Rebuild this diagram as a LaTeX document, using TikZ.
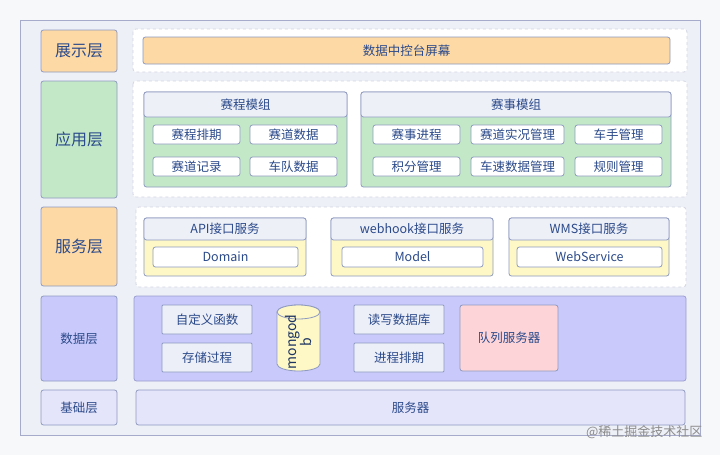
\documentclass[tikz,border=0pt]{standalone}
\usepackage{fontspec}
\setmainfont{Noto Sans CJK SC}
\definecolor{bgc}{HTML}{F7F8FA}
\definecolor{framefill}{HTML}{EEF0F7}
\definecolor{framedraw}{HTML}{A6AACB}
\definecolor{dashdraw}{HTML}{D2D5E2}
\definecolor{orangef}{HTML}{FDD9A5}
\definecolor{greenf}{HTML}{C3E8C8}
\definecolor{headf}{HTML}{EEF0F8}
\definecolor{edge}{HTML}{8E9AC0}
\definecolor{yellowf}{HTML}{FDF8C6}
\definecolor{bluef}{HTML}{C9C9FB}
\definecolor{bluedraw}{HTML}{9A9DD0}
\definecolor{itemf}{HTML}{ECEEF8}
\definecolor{pinkf}{HTML}{FDD5D8}
\definecolor{basef}{HTML}{E4E4FA}
\definecolor{txt}{HTML}{2B4A8A}
\begin{document}
\begin{tikzpicture}[x=1pt,y=-1pt,
  box/.style={draw=edge,line width=0.8pt,rounded corners=2.5pt,inner sep=0pt,text=txt},
  dashbox/.style={draw=dashdraw,dashed,fill=white,line width=0.8pt,rounded corners=3pt},
  lbl/.style={text=txt,font=\fontsize{16}{17}\selectfont},
  small/.style={text=txt,font=\fontsize{12.5}{14}\selectfont},
  item/.style={box,fill=white},
]
\useasboundingbox (0,0) rectangle (720,455);
\fill[bgc] (0,0) rectangle (720,455);
% outer frame
\draw[draw=framedraw,fill=framefill,line width=1pt] (20,20) rectangle (700,435);

% left labels
\draw[box,fill=orangef] (41,30) rectangle (117,72);
\node[lbl] (l1) at (79,51) {展示层};
\draw[box,fill=greenf] (41,81) rectangle (117,198);
\node[lbl] (l2) at (79,139.5) {应用层};
\draw[box,fill=orangef] (41,207) rectangle (117,286);
\node[lbl] (l3) at (79,246.5) {服务层};
\draw[box,fill=bluef] (41,296) rectangle (117,381);
\node[small] (l4) at (79,338.5) {数据层};
\draw[box,fill=basef] (41,390) rectangle (117,425);
\node[small] (l5) at (79,407.5) {基础层};

% presentation layer
\draw[dashbox] (133,29) rectangle (687,72);
\draw[box,fill=orangef] (143,37) rectangle (670,64);
\node[small] (screen) at (406.5,50.5) {数据中控台屏幕};

% application layer
\draw[dashbox] (133,81) rectangle (687,197);
% group 1
\draw[box,fill=greenf] (144,92) rectangle (347,187);
\draw[box,fill=headf] (144,92) rectangle (347,117);
\node[small] (g1) at (245.5,104.5) {赛程模组};
\draw[item] (153,125) rectangle (240,144); \node[small] (a1) at (196.5,134.5) {赛程排期};
\draw[item] (250,125) rectangle (337,144); \node[small] (a2) at (293.5,134.5) {赛道数据};
\draw[item] (153,157) rectangle (240,176); \node[small] (a3) at (196.5,166.5) {赛道记录};
\draw[item] (250,157) rectangle (337,176); \node[small] (a4) at (293.5,166.5) {车队数据};
% group 2
\draw[box,fill=greenf] (361,92) rectangle (671,187);
\draw[box,fill=headf] (361,92) rectangle (671,117);
\node[small] (g2) at (516,104.5) {赛事模组};
\draw[item] (373,125) rectangle (460,144); \node[small] (b1) at (416.5,134.5) {赛事进程};
\draw[item] (471,125) rectangle (564,144); \node[small] (b2) at (517.5,134.5) {赛道实况管理};
\draw[item] (575,125) rectangle (662,144); \node[small] (b3) at (618.5,134.5) {车手管理};
\draw[item] (373,157) rectangle (460,176); \node[small] (b4) at (416.5,166.5) {积分管理};
\draw[item] (471,157) rectangle (564,176); \node[small] (b5) at (517.5,166.5) {车速数据管理};
\draw[item] (575,157) rectangle (662,176); \node[small] (b6) at (618.5,166.5) {规则管理};

% service layer
\draw[dashbox] (136,207) rectangle (686,287);
\draw[box,fill=yellowf] (144,218) rectangle (306,276);
\draw[box,fill=headf] (144,218) rectangle (306,240);
\node[small] (s1) at (225,229) {API接口服务};
\draw[item] (153,247) rectangle (298,267); \node[small] (s1i) at (225.5,257) {Domain};
\draw[box,fill=yellowf] (331,218) rectangle (493,276);
\draw[box,fill=headf] (331,218) rectangle (493,240);
\node[small] (s2) at (412,229) {webhook接口服务};
\draw[item] (342,247) rectangle (483,267); \node[small] (s2i) at (412.5,257) {Model};
\draw[box,fill=yellowf] (509,218) rectangle (669,276);
\draw[box,fill=headf] (509,218) rectangle (669,240);
\node[small] (s3) at (589,229) {WMS接口服务};
\draw[item] (517,247) rectangle (662,267); \node[small] (s3i) at (589.5,257) {WebService};

% data layer
\draw[box,draw=bluedraw,fill=bluef] (134,296) rectangle (686,381);
\draw[box,fill=itemf,rounded corners=1pt] (162,305) rectangle (252,334); \node[small] (d1) at (207,319.5) {自定义函数};
\draw[box,fill=itemf,rounded corners=1pt] (162,343) rectangle (252,372); \node[small] (d2) at (207,357.5) {存储过程};
% cylinder (mongodb)
\draw[draw=edge,line width=0.8pt,fill=yellowf] (277,312) -- (277,364)
  arc[start angle=180,end angle=0,x radius=21.5,y radius=7] -- (320,312)
  arc[start angle=0,end angle=-180,x radius=21.5,y radius=7] -- cycle;
\draw[draw=edge,line width=0.8pt,fill=yellowf] (298.5,312) ellipse [x radius=21.5,y radius=7];
\node[rotate=90,align=center,text=txt!70!black,font=\fontsize{14}{14}\selectfont] (dbt) at (298.5,342) {mongod\\b};
\draw[box,fill=itemf,rounded corners=1pt] (354,305) rectangle (444,334); \node[small] (d3) at (399,319.5) {读写数据库};
\draw[box,fill=itemf,rounded corners=1pt] (354,343) rectangle (444,372); \node[small] (d4) at (399,357.5) {进程排期};
\draw[box,fill=pinkf] (460,305) rectangle (558,371); \node[small] (d5) at (509,338) {队列服务器};

% base layer
\draw[box,fill=basef] (136,390) rectangle (685,425);
\node[small] (srv) at (410.5,407.5) {服务器};

% watermark
\node[text=black!45,font=\fontsize{13}{14}\selectfont,anchor=east] (wm) at (706,432) {@稀土掘金技术社区};
\end{tikzpicture}
\end{document}
